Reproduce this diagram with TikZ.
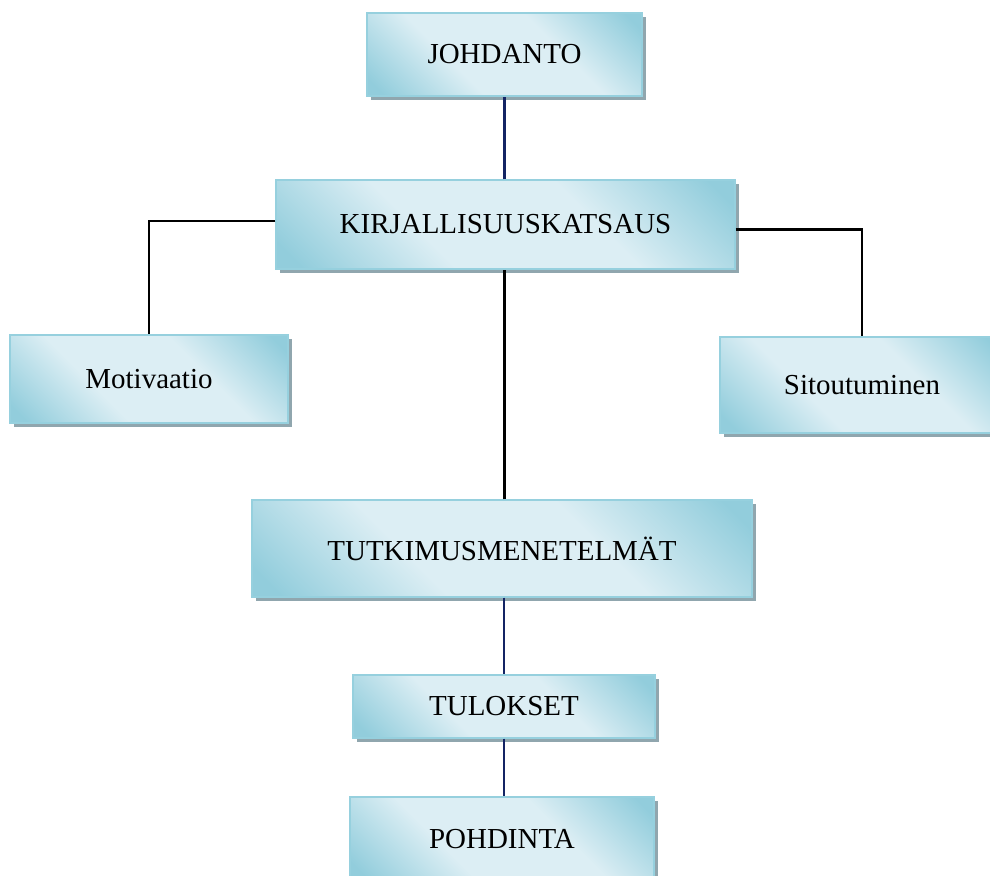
\documentclass[tikz,border=0pt]{standalone}
\usepackage{fontspec}
\setmainfont{Liberation Serif}
\usepackage{xcolor}
\usetikzlibrary{calc, shadows}

\definecolor{boxdark}{HTML}{92CDDC}
\definecolor{boxlight}{HTML}{DCEEF4}
\definecolor{boxedge}{HTML}{96D0DE}
\definecolor{boxshadow}{HTML}{90A6AE}
\definecolor{navyline}{RGB}{20,36,100}

\pgfdeclarehorizontalshading{boxshade}{100bp}{color(0bp)=(boxdark); color(18bp)=(boxdark); color(38bp)=(boxlight); color(62bp)=(boxlight); color(82bp)=(boxdark); color(100bp)=(boxdark)}

\tikzset{
	chapter/.style = {rectangle, draw=boxedge, line width=0.6pt, shading=boxshade, shading angle=45,
		drop shadow={shadow xshift=1.6pt, shadow yshift=-1.6pt, fill=boxshadow, opacity=1},
		font=\fontsize{12}{14}\selectfont, inner sep=0pt},
	link/.style = {line width=1pt, navyline},
	branch/.style = {line width=1pt, black},
}

\begin{document}
\begin{tikzpicture}[x=0.4142pt, y=-0.4142pt]
		\useasboundingbox (0,0) rectangle (990,876);

		% boxes, centres and sizes in pixels of the layout
		\node[chapter, minimum width=275*0.4142pt, minimum height=83*0.4142pt] (johdanto) at (504.5,54.5) {JOHDANTO};
		\node[chapter, minimum width=459*0.4142pt, minimum height=89*0.4142pt] (katsaus) at (505.5,224.5) {KIRJALLISUUSKATSAUS};
		\node[chapter, minimum width=278*0.4142pt, minimum height=88*0.4142pt] (motivaatio) at (149,379) {Motivaatio};
		\node[chapter, minimum width=284*0.4142pt, minimum height=96*0.4142pt] (sitoutuminen) at (862,385) {Sitoutuminen};
		\node[chapter, minimum width=500*0.4142pt, minimum height=97*0.4142pt] (menetelmat) at (502,548.5) {TUTKIMUSMENETELMÄT};
		\node[chapter, minimum width=302*0.4142pt, minimum height=63*0.4142pt] (tulokset) at (504,706.5) {TULOKSET};
		\node[chapter, minimum width=304*0.4142pt, minimum height=84*0.4142pt] (pohdinta) at (502,839) {POHDINTA};

		% connectors
		\begin{scope}[link]
			\draw (katsaus.north -| johdanto.south) -- (johdanto.south);
			\draw (tulokset.north |- menetelmat.south) -- (tulokset.north);
			\draw (tulokset.south) -- (tulokset.south |- pohdinta.north);
		\end{scope}

		\begin{scope}[branch]
			\draw ([yshift=1.5pt]katsaus.west) -| (motivaatio.north);
			\draw ([yshift=-2pt]katsaus.east) -| (sitoutuminen.north);
			\draw (menetelmat.north -| johdanto.south) -- (katsaus.south -| johdanto.south);
		\end{scope}
	\end{tikzpicture}
\end{document}
